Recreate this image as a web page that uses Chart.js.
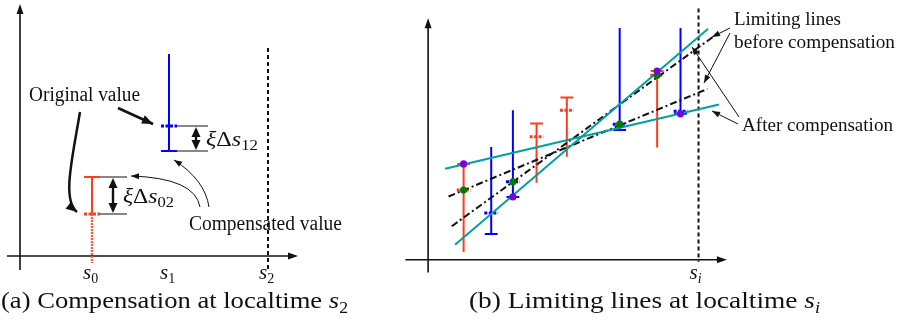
<!DOCTYPE html>
<html>
<head>
<meta charset="utf-8">
<title>Compensation and limiting lines</title>
<script src="https://cdn.jsdelivr.net/npm/chart.js@4.4.1/dist/chart.umd.min.js"></script>
<style>
  html, body { margin: 0; padding: 0; background: #fff; }
  #wrap { position: relative; width: 902px; height: 322px; }
  #chartA { position: absolute; left: 0; top: 0; }
  #chartB { position: absolute; left: 390px; top: 0; }
</style>
</head>
<body>
<div id="wrap">
  <canvas id="chartA" width="390" height="322"></canvas>
  <canvas id="chartB" width="512" height="322"></canvas>
</div>
<script>
// ---- panel (a): compensation at localtime s2 ----
const tickNamesA = ['0', '1', '2'];          // s0, s1, s2
const tickXA = [7.2, 14.9, 24.8];
const kindA = ['upper', 'lower'];            // red = upper bound, blue = lower bound
const origA = [4.2, 13.0];
const compA = [7.9, 10.5];
const farA = [-0.7, 20.2];
const dottedTailA = [true, false];
const deltaNamesA = ['02', '12'];

// ---- panel (b): limiting lines at localtime s_i ----
const barXB = [3.6, 6.4, 8.6, 11.0, 14.07, 19.43, 23.23, 25.6];
const kindB = ['upper', 'lower', 'lower', 'upper', 'upper', 'lower', 'upper', 'lower'];
const origB = [7.13, 4.77, 7.97, 12.57, 15.3, 13.87, 18.87, 15.2];
const compB = [9.8, 2.63, 6.43, 13.93, 16.6, 13.27, 19.3, 14.93];
const farB = [0.8, 11.53, 15.3, 7.87, 10.53, 23.7, 11.47, 23.7];
const purpleIdx = [0, 2, 6, 7];   // extremes after compensation
const greenIdx = [0, 2, 5, 6];    // extremes before compensation
const boundaryXB = 27.43;

const afterFlatX = [1.73, 29.5],   afterFlatY = [9.3, 15.87];
const afterSteepX = [2.73, 28.4],  afterSteepY = [1.53, 23.63];
const beforeFlatX = [2.07, 28.33], beforeFlatY = [6.47, 17.47];
const beforeSteepX = [2.4, 29.0],  beforeSteepY = [3.43, 22.87];

const RED = '#ff3c1e', BLUE = '#0000ff', TEAL = '#00a0a0', PURPLE = '#7d00dc', GREEN = '#007c00', INK = '#111';
const SERIF = '"Liberation Serif", "Times New Roman", serif';

function seg(x0, y0, x1, y1, color, width, dash, order) {
    return {
        data: [{ x: x0, y: y0 }, { x: x1, y: y1 }],
        showLine: true,
        borderColor: color,
        borderWidth: width,
        borderDash: dash || [],
        borderCapStyle: 'butt',
        pointRadius: 0,
        pointHoverRadius: 0,
        order: order
    };
}

// vertical interval with compensated cap and dotted original tick
function errorBarSets(xs, kinds, orig, comp, far, dottedTail, capHalf, tickHalf) {
    const out = [];
    xs.forEach((x, i) => {
        const c = kinds[i] === 'upper' ? RED : BLUE;
        if (dottedTail && dottedTail[i]) {
            out.push(seg(x, comp[i], x, orig[i], c, 2, [], 3));
            out.push(seg(x, orig[i], x, far[i], '#ff5a3c', 2.5, [2, 1], 3));
        } else {
            out.push(seg(x, comp[i], x, far[i], c, 2, [], 3));
        }
        out.push(seg(x - capHalf, comp[i], x + capHalf, comp[i], c, 2, [], 3));
        out.push(seg(x - tickHalf, orig[i], x + tickHalf, orig[i], c, 3, [3, 1.5], 2));
    });
    return out;
}

function panelOptions(xMin, xMax, yMin, yMax) {
    return {
        responsive: false,
        animation: false,
        devicePixelRatio: 1,
        events: [],
        layout: { padding: 0 },
        plugins: { legend: { display: false }, tooltip: { enabled: false } },
        scales: {
            x: { type: 'linear', display: false, min: xMin, max: xMax },
            y: { type: 'linear', display: false, min: yMin, max: yMax }
        }
    };
}

// ---- drawing helpers ----
function arrowHead(ctx, x, y, ang, len, half) {
    ctx.beginPath();
    ctx.moveTo(x, y);
    ctx.lineTo(x - len * Math.cos(ang) + half * Math.sin(ang), y - len * Math.sin(ang) - half * Math.cos(ang));
    ctx.lineTo(x - len * Math.cos(ang) - half * Math.sin(ang), y - len * Math.sin(ang) + half * Math.cos(ang));
    ctx.closePath();
    ctx.fill();
}

function arrow(ctx, pts, width, len, half) {
    // pts: straight [x0,y0,x1,y1], quadratic [.., cx,cy, x1,y1] or cubic
    ctx.save();
    ctx.strokeStyle = INK; ctx.fillStyle = INK; ctx.lineWidth = width;
    ctx.beginPath();
    ctx.moveTo(pts[0], pts[1]);
    if (pts.length === 4) ctx.lineTo(pts[2], pts[3]);
    else if (pts.length === 6) ctx.quadraticCurveTo(pts[2], pts[3], pts[4], pts[5]);
    else ctx.bezierCurveTo(pts[2], pts[3], pts[4], pts[5], pts[6], pts[7]);
    ctx.stroke();
    const n = pts.length;
    const ex = pts[n - 2], ey = pts[n - 1], px = pts[n - 4], py = pts[n - 3];
    arrowHead(ctx, ex, ey, Math.atan2(ey - py, ex - px), len, half);
    ctx.restore();
}

// runs: [text, font, dy]; stretched horizontally to the target width
function drawRuns(ctx, runs, x, y, target) {
    ctx.save();
    ctx.fillStyle = INK;
    ctx.textBaseline = 'alphabetic';
    ctx.textAlign = 'left';
    let natural = 0;
    const widths = runs.map(r => { ctx.font = r[1]; const w = ctx.measureText(r[0]).width; natural += w; return w; });
    const sx = target ? target / natural : 1;
    ctx.translate(x, y);
    ctx.scale(sx, 1);
    let cx = 0;
    runs.forEach((r, i) => { ctx.font = r[1]; ctx.fillText(r[0], cx, r[2] || 0); cx += widths[i]; });
    ctx.restore();
}

function drawAxes(chart, xRange, yRange) {
    const ctx = chart.ctx, xs = chart.scales.x, ys = chart.scales.y;
    const x0 = xs.getPixelForValue(0), y0 = ys.getPixelForValue(0);
    const xa = xs.getPixelForValue(xRange[0]), xb = xs.getPixelForValue(xRange[1]);
    const ya = ys.getPixelForValue(yRange[0]), yb = ys.getPixelForValue(yRange[1]);
    ctx.save();
    ctx.strokeStyle = INK; ctx.fillStyle = INK; ctx.lineWidth = 1.6;
    ctx.beginPath();
    ctx.moveTo(xa, y0); ctx.lineTo(xb - 6, y0);
    ctx.moveTo(x0, ya); ctx.lineTo(x0, yb + 6);
    ctx.stroke();
    arrowHead(ctx, xb, y0, 0, 10, 3.5);
    arrowHead(ctx, x0, yb, -Math.PI / 2, 10, 3.5);
    ctx.restore();
}

function tickLabel(ctx, px, sub, italicSub) {
    drawRuns(ctx, [['s', 'italic 21px ' + SERIF, 0], [sub, (italicSub ? 'italic ' : '') + '14px ' + SERIF, 4]],
             px - 9, 279, null);
}

// ---- panel (a) ----
const annotA = {
    id: 'annotA',
    beforeDatasetsDraw(chart) {
        drawAxes(chart, [-1.3, 27.8], [-1.4, 25.2]);
    },
    afterDatasetsDraw(chart) {
        const ctx = chart.ctx, xs = chart.scales.x, ys = chart.scales.y;
        const bracketEnd = [35, 39], arrowOff = [21, 27], labelOff = [31, 37], labelW = [51, 52];
        kindA.forEach((k, i) => {
            const px = xs.getPixelForValue(tickXA[i]);
            const yc = ys.getPixelForValue(compA[i]), yo = ys.getPixelForValue(origA[i]);
            ctx.save();
            ctx.strokeStyle = INK; ctx.fillStyle = INK; ctx.lineWidth = 1;
            ctx.beginPath();
            ctx.moveTo(px + 8, yc); ctx.lineTo(px + bracketEnd[i], yc);
            ctx.moveTo(px + 8, yo); ctx.lineTo(px + bracketEnd[i], yo);
            ctx.stroke();
            const ax = px + arrowOff[i], top = Math.min(yc, yo), bot = Math.max(yc, yo);
            ctx.lineWidth = 2.4;
            ctx.beginPath(); ctx.moveTo(ax, top + 6); ctx.lineTo(ax, bot - 6); ctx.stroke();
            arrowHead(ctx, ax, top + 1, -Math.PI / 2, 10, 4.5);
            arrowHead(ctx, ax, bot - 1, Math.PI / 2, 10, 4.5);
            ctx.restore();
            drawRuns(ctx, [['ξ', 'italic 20px ' + SERIF, 0], ['Δ', '20px ' + SERIF, 0],
                           ['s', 'italic 20px ' + SERIF, 0], [deltaNamesA[i], '14px ' + SERIF, 4]],
                     px + labelOff[i], (top + bot) / 2 + 7, labelW[i]);
        });
        tickXA.forEach((t, i) => tickLabel(ctx, xs.getPixelForValue(t), tickNamesA[i], false));

        drawRuns(ctx, [['Original value', '20px ' + SERIF, 0]], 29, 101, 111);
        drawRuns(ctx, [['Compensated value', '20px ' + SERIF, 0]], 189, 230, 153);

        arrow(ctx, [118, 108, 153, 124], 2.5, 11, 4.5);
        arrow(ctx, [80, 112, 72, 160, 62, 200, 77, 212], 2.5, 11, 4.5);
        arrow(ctx, [200, 207, 195, 178, 131, 176], 1, 8, 3);
        arrow(ctx, [209, 207, 205, 180, 174, 160], 1, 8, 3);

        drawRuns(ctx, [['(a) Compensation at localtime ', '24px ' + SERIF, 0],
                       ['s', 'italic 24px ' + SERIF, 0], ['2', '16px ' + SERIF, 5]],
                 1, 308, 347);
    }
};

new Chart(document.getElementById('chartA'), {
    type: 'scatter',
    data: {
        datasets: [
            ...errorBarSets(tickXA.slice(0, 2), kindA, origA, compA, farA, dottedTailA, 0.8, 0.8),
            seg(tickXA[2], 20.8, tickXA[2], -1.5, INK, 2, [4, 3], 4)
        ]
    },
    options: panelOptions(-2.0, 37.0, -6.6, 25.6),
    plugins: [annotA]
});

// ---- panel (b) ----
const annotB = {
    id: 'annotB',
    beforeDatasetsDraw(chart) {
        drawAxes(chart, [-2.3, 30.3], [-1.3, 24.7]);
    },
    afterDatasetsDraw(chart) {
        const ctx = chart.ctx, xs = chart.scales.x;
        tickLabel(ctx, xs.getPixelForValue(boundaryXB), 'i', true);

        drawRuns(ctx, [['Limiting lines', '18px ' + SERIF, 0]], 344, 25, 107);
        drawRuns(ctx, [['before compensation', '18px ' + SERIF, 0]], 344, 48, 161);
        drawRuns(ctx, [['After compensation', '18px ' + SERIF, 0]], 352, 131, 151);

        arrow(ctx, [340, 28, 322, 37], 1, 8, 3);
        arrow(ctx, [340, 33, 314, 83], 1, 8, 3);
        arrow(ctx, [349, 117, 302, 47], 1, 8, 3);
        arrow(ctx, [348, 124, 322, 111], 1, 8, 3);

        drawRuns(ctx, [['(b) Limiting lines at localtime ', '24px ' + SERIF, 0],
                       ['s', 'italic 24px ' + SERIF, 0], ['i', 'italic 16px ' + SERIF, 5]],
                 79, 308, 351);
    }
};

function dotSet(idx, values, color) {
    return {
        data: idx.map(i => ({ x: barXB[i], y: values[i] })),
        pointRadius: 3.6,
        pointHoverRadius: 3.6,
        pointBackgroundColor: color,
        pointBorderWidth: 0,
        showLine: false,
        order: 0
    };
}

new Chart(document.getElementById('chartB'), {
    type: 'scatter',
    data: {
        datasets: [
            dotSet(purpleIdx, compB, PURPLE),
            dotSet(greenIdx, origB, GREEN),
            seg(afterFlatX[0], afterFlatY[0], afterFlatX[1], afterFlatY[1], TEAL, 2, [], 1),
            seg(afterSteepX[0], afterSteepY[0], afterSteepX[1], afterSteepY[1], TEAL, 2, [], 1),
            seg(beforeFlatX[0], beforeFlatY[0], beforeFlatX[1], beforeFlatY[1], INK, 2, [7, 3, 2, 3], 1),
            seg(beforeSteepX[0], beforeSteepY[0], beforeSteepX[1], beforeSteepY[1], INK, 2, [7, 3, 2, 3], 1),
            ...errorBarSets(barXB, kindB, origB, compB, farB, null, 0.65, 0.7),
            seg(boundaryXB, 25.7, boundaryXB, -0.2, INK, 2, [4, 3], 4)
        ]
    },
    options: panelOptions(-3.5, 47.7, -6.0, 26.2),
    plugins: [annotB]
});
</script>
</body>
</html>
